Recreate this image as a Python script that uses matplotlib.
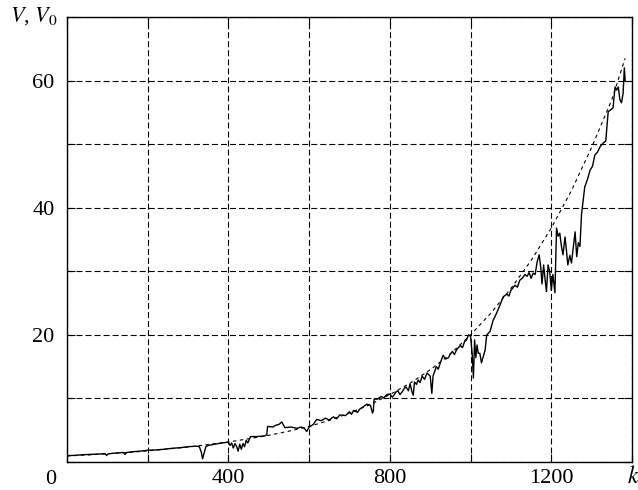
import matplotlib
matplotlib.use("Agg")
import matplotlib.pyplot as plt
from matplotlib.ticker import MultipleLocator, FuncFormatter

plt.rcParams["font.family"] = ["Liberation Serif", "DejaVu Serif"]
plt.rcParams["mathtext.fontset"] = "stix"
plt.rcParams["lines.scale_dashes"] = False

# Reference curve V0(k)
k0 = [0, 50, 100, 150, 200, 250, 300, 350, 400, 450, 500, 550, 600, 650, 700,
      750, 800, 850, 900, 950, 1000, 1050, 1100, 1150, 1200, 1250, 1300, 1350, 1383]
v0 = [0.95, 1.1, 1.3, 1.5, 1.75, 2.05, 2.35, 2.75, 3.15, 3.65, 4.2, 4.85, 5.6, 6.55, 7.7,
      9.0, 10.6, 12.4, 14.5, 17.0, 20.0, 23.4, 27.3, 31.7, 36.8, 42.7, 49.5, 57.0, 63.5]

# Measured V(k)
k = [0, 20, 40, 60, 80, 95, 98, 101, 110, 130, 140, 144, 148, 160, 180, 200, 220, 240,
     260, 280, 300, 320, 328, 333, 336, 339, 344, 350, 370, 390, 400, 404, 408, 412, 416,
     420, 424, 428, 432, 436, 440, 444, 448, 452, 455, 470, 490, 495, 497, 510, 518, 525,
     532, 540, 555, 570, 580, 588, 594, 600, 610, 619, 630, 640, 650, 660, 668, 676, 690,
     700, 705, 710, 720, 725, 730, 743, 752, 757, 759, 761, 770, 778, 785, 792, 800, 806,
     810, 815, 820, 825, 830, 836, 840, 846, 850, 855, 858, 861, 866, 870, 875, 880, 886,
     892, 900, 904, 907, 915, 920, 925, 932, 938, 945, 950, 955, 960, 965, 970, 975, 980,
     985, 990, 995, 1000, 1004, 1007, 1010, 1013, 1016, 1019, 1023, 1027, 1031, 1036,
     1040, 1048, 1056, 1060, 1065, 1073, 1081, 1090, 1095, 1100, 1105, 1110, 1116, 1122,
     1128, 1135, 1140, 1145, 1150, 1155, 1160, 1165, 1170, 1174, 1177, 1181, 1185, 1188,
     1192, 1196, 1200, 1204, 1209, 1213, 1217, 1221, 1225, 1229, 1234, 1238, 1241, 1246,
     1250, 1254, 1259, 1263, 1267, 1271, 1275, 1283, 1290, 1296, 1302, 1308, 1315, 1321,
     1329, 1335, 1341, 1347, 1353, 1358, 1362, 1366, 1370, 1374, 1378, 1381, 1383]
v = [1.0, 1.05, 1.15, 1.2, 1.25, 1.3, 1.0, 1.25, 1.35, 1.45, 1.5, 1.2, 1.5, 1.6, 1.7,
     1.85, 1.9, 2.0, 2.15, 2.25, 2.4, 2.5, 2.4, 1.5, 0.5, 1.2, 2.4, 2.6, 2.85, 3.05, 3.1,
     2.6, 3.0, 2.2, 2.9, 2.5, 1.7, 2.8, 2.0, 2.9, 2.4, 3.4, 3.0, 3.6, 4.0, 4.0, 4.1, 4.3,
     5.6, 5.5, 5.8, 5.9, 6.3, 5.4, 5.5, 5.3, 5.5, 5.3, 4.8, 5.5, 5.9, 6.7, 6.5, 6.9, 6.6,
     7.1, 6.8, 7.4, 7.3, 7.9, 7.5, 8.1, 7.8, 8.3, 8.5, 9.1, 8.9, 7.7, 8.0, 9.9, 9.9, 10.3,
     10.1, 10.6, 10.7, 10.2, 10.5, 11.0, 11.2, 10.6, 11.0, 11.6, 11.8, 11.2, 12.3, 11.0,
     10.5, 12.6, 12.2, 12.9, 12.5, 13.5, 13.0, 14.0, 13.5, 10.8, 13.5, 15.0, 14.6, 15.6,
     16.8, 16.2, 16.4, 17.0, 17.4, 16.9, 17.6, 18.0, 18.3, 18.0, 18.9, 19.2, 20.0, 19.8,
     17.0, 13.2, 19.2, 16.4, 18.4, 17.1, 17.1, 15.6, 16.5, 17.6, 20.0, 20.5, 22.3, 22.8,
     23.5, 24.7, 26.0, 26.4, 26.1, 27.0, 27.4, 27.8, 27.5, 28.6, 28.9, 29.5, 29.2, 29.8,
     28.9, 29.7, 29.5, 31.5, 32.6, 30.5, 28.0, 31.0, 28.5, 26.8, 31.0, 30.0, 27.0, 29.5,
     26.6, 36.8, 35.5, 36.0, 34.0, 32.6, 35.4, 33.0, 31.0, 32.5, 31.3, 33.5, 36.2, 32.3,
     34.5, 33.9, 39.0, 43.3, 44.5, 45.9, 46.5, 48.3, 48.8, 49.6, 50.2, 50.5, 55.1, 55.4,
     55.7, 59.0, 58.5, 59.0, 57.0, 56.5, 58.0, 62.0, 60.0]

x_labels = {400: "400", 800: "800", 1200: "1200"}
y_labels = {20: "20", 40: "40", 60: "60"}

fig = plt.figure(figsize=(6.38, 4.90), dpi=100)
ax = fig.add_axes([67 / 638, 28 / 490, 565 / 638, 445 / 490])

ax.plot(k0, v0, color="black", lw=0.8, linestyle=(0, (2.5, 2.5)))
ax.plot(k, v, color="black", lw=1.0)

ax.set_xlim(0, 1400)
ax.set_ylim(0, 70)
ax.xaxis.set_major_locator(MultipleLocator(200))
ax.yaxis.set_major_locator(MultipleLocator(10))
ax.xaxis.set_major_formatter(FuncFormatter(lambda val, pos: x_labels.get(int(round(val)), "")))
ax.yaxis.set_major_formatter(FuncFormatter(lambda val, pos: y_labels.get(int(round(val)), "")))

ax.grid(True, color="black", lw=0.8, linestyle=(0, (4.3, 2.2)))
ax.tick_params(direction="in", length=6, width=0.8, top=True, right=True,
               labelsize=16)
ax.tick_params(axis="x", pad=5)
ax.tick_params(axis="y", pad=9)
for s in ax.spines.values():
    s.set_linewidth(1.0)

fig.text(51 / 638, 11 / 490, "0", fontsize=16, ha="center", va="center")
fig.text(633 / 638, 13 / 490, "$k$", fontsize=17, ha="center", va="center")
fig.text(34 / 638, 474 / 490, r"$V$, $V_0$", fontsize=16, ha="center", va="center")

fig.savefig("out.png", dpi=100)
